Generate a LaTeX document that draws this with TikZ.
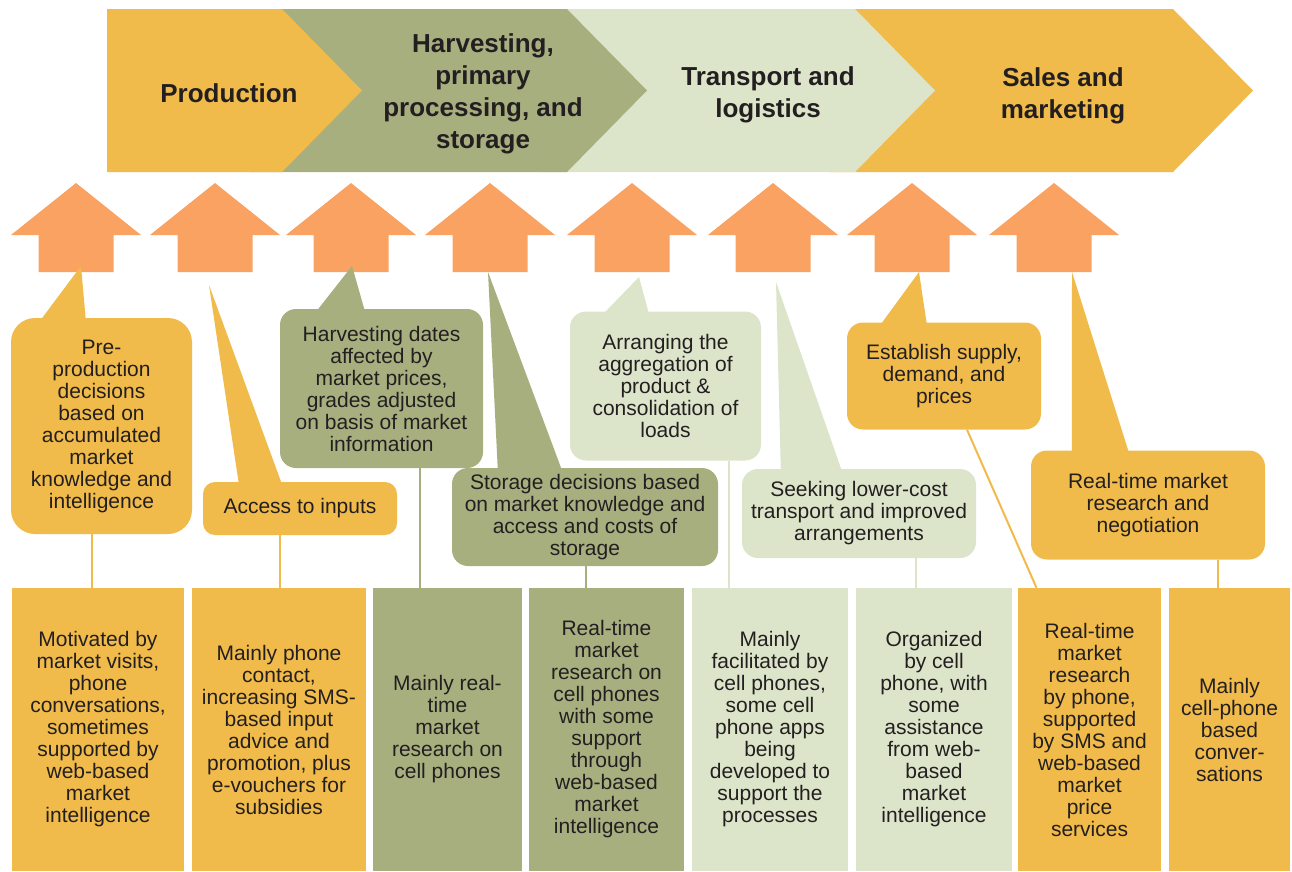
\documentclass[tikz,border=0pt]{standalone}
\usepackage{fontspec}
\setmainfont{Liberation Sans}
\usepackage{xcolor}
\usepackage{tikz}
\definecolor{prodyellow}{RGB}{240,187,74}
\definecolor{harvolive}{RGB}{167,175,127}
\definecolor{transgreen}{RGB}{220,229,201}
\definecolor{arroworange}{RGB}{249,162,97}
\definecolor{inktext}{RGB}{35,31,32}

\begin{document}
\begin{tikzpicture}[
    x=1pt, y=-1pt,
    stagetext/.style={font=\bfseries\fontsize{26}{32}\selectfont, align=center, text=inktext},
    callout/.style={rectangle, rounded corners=16pt, fill=#1, text=inktext, align=center, inner sep=0pt, font=\fontsize{21}{22}\selectfont},
    detail/.style={rectangle, fill=#1, text=inktext, align=center, inner sep=0pt, minimum height=283pt, font=\fontsize{21}{22}\selectfont},
    link/.style={draw=#1, line width=2pt},
    uparrow/.style={fill=arroworange}
]
\useasboundingbox (0,0) rectangle (1292,871);

% value chain stages
\fill[prodyellow] (830,9) -- (1173,9) -- (1253,90.5) -- (1173,172) -- (830,172) -- cycle;
\fill[transgreen] (540,9) -- (855,9) -- (935,90.5) -- (855,172) -- (540,172) -- cycle;
\fill[harvolive] (250,9) -- (567,9) -- (647,90.5) -- (567,172) -- (250,172) -- cycle;
\fill[prodyellow] (107,9) -- (282,9) -- (362,90.5) -- (282,172) -- (107,172) -- cycle;
\node[stagetext] (production) at (229,93) {Production};
\node[stagetext] (harvest) at (483,94) {Harvesting,\\primary\\processing, and\\storage};
\node[stagetext] (transport) at (768,95) {Transport and\\logistics};
\node[stagetext] (sales) at (1063,96) {Sales and\\marketing};

% up arrows
\foreach \x [count=\i] in {76,215,351,490,632,773,912,1054} {
  \fill[uparrow] (\x,183) -- ++(65,52) -- ++(-27.5,0) -- ++(0,37) -- ++(-75,0) -- ++(0,-37) -- ++(-27.5,0) -- cycle;
  \coordinate (a\i) at (\x,272);
}

% callouts
\node[callout=prodyellow, rounded corners=24pt, minimum width=181pt, minimum height=216pt] (c1) at (101.5,426)
  {Pre-\\production\\decisions\\based on\\accumulated\\market\\knowledge and\\intelligence};
\node[callout=prodyellow, rounded corners=12pt, minimum width=194pt, minimum height=53pt] (c2) at (300,508.5)
  {Access to inputs};
\node[callout=harvolive, minimum width=203pt, minimum height=159pt] (c3) at (381.5,388.5)
  {Harvesting dates\\affected by\\market prices,\\grades adjusted\\on basis of market\\information};
\node[callout=harvolive, minimum width=266pt, minimum height=98pt] (c4) at (585,517)
  {Storage decisions based\\on market knowledge and\\access and costs of\\storage};
\node[callout=transgreen, minimum width=191pt, minimum height=149pt] (c5) at (665.5,386)
  {Arranging the\\aggregation of\\product \&\\consolidation of\\loads};
\node[callout=transgreen, minimum width=234pt, minimum height=89pt] (c6) at (859,513.5)
  {Seeking lower-cost\\transport and improved\\arrangements};
\node[callout=prodyellow, minimum width=194pt, minimum height=107pt] (c7) at (944,376)
  {Establish supply,\\demand, and\\prices};
\node[callout=prodyellow, minimum width=234pt, minimum height=109pt] (c8) at (1148,505)
  {Real-time market\\research and\\negotiation};

% callout pointers
\fill[prodyellow] ([xshift=30pt,yshift=-2pt]c1.north west) -- ([xshift=5pt,yshift=6pt]a1) -- ([xshift=75pt,yshift=-2pt]c1.north west) -- cycle;
\fill[prodyellow] ([xshift=36pt,yshift=-2pt]c2.north west) -- ([xshift=-6pt,yshift=-13pt]a2) -- ([xshift=79pt,yshift=-2pt]c2.north west) -- cycle;
\fill[harvolive] ([xshift=37pt,yshift=-2pt]c3.north west) -- ([xshift=1pt,yshift=6pt]a3) -- ([xshift=85pt,yshift=-2pt]c3.north west) -- cycle;
\fill[harvolive] ([xshift=46pt,yshift=-2pt]c4.north west) -- ([xshift=-2pt]a4) -- ([xshift=110pt,yshift=-2pt]c4.north west) -- cycle;
\fill[transgreen] ([xshift=34pt,yshift=-2pt]c5.north west) -- ([xshift=7pt,yshift=-5pt]a5) -- ([xshift=79pt,yshift=-2pt]c5.north west) -- cycle;
\fill[transgreen] ([xshift=39pt,yshift=-2pt]c6.north west) -- ([xshift=3pt,yshift=-10pt]a6) -- ([xshift=100pt,yshift=-2pt]c6.north west) -- cycle;
\fill[prodyellow] ([xshift=34pt,yshift=-2pt]c7.north west) -- ([xshift=7pt]a7) -- ([xshift=80pt,yshift=-2pt]c7.north west) -- cycle;
\fill[prodyellow] ([xshift=41pt,yshift=-2pt]c8.north west) -- ([xshift=18pt]a8) -- ([xshift=98pt,yshift=-2pt]c8.north west) -- cycle;

% detail boxes
\node[detail=prodyellow, minimum width=172pt] (b1) at (98,729.5)
  {Motivated by\\market visits,\\phone\\conversations,\\sometimes\\supported by\\web-based\\market\\intelligence};
\node[detail=prodyellow, minimum width=174pt] (b2) at (279,729.5)
  {Mainly phone\\contact,\\increasing SMS-\\based input\\advice and\\promotion, plus\\e-vouchers for\\subsidies};
\node[detail=harvolive, minimum width=149pt] (b3) at (447.5,729.5)
  {Mainly real-\\time\\market\\research on\\cell phones};
\node[detail=harvolive, minimum width=155pt] (b4) at (606.5,729.5)
  {Real-time\\market\\research on\\cell phones\\with some\\support\\through\\web-based\\market\\intelligence};
\node[detail=transgreen, minimum width=156pt] (b5) at (770,729.5)
  {Mainly\\facilitated by\\cell phones,\\some cell\\phone apps\\being\\developed to\\support the\\processes};
\node[detail=transgreen, minimum width=156pt] (b6) at (934,729.5)
  {Organized\\by cell\\phone, with\\some\\assistance\\from web-\\based\\market\\intelligence};
\node[detail=prodyellow, minimum width=143pt] (b7) at (1089.5,729.5)
  {Real-time\\market\\research\\by phone,\\supported\\by SMS and\\web-based\\market\\price\\services};
\node[detail=prodyellow, minimum width=121pt] (b8) at (1229.5,729.5)
  {Mainly\\cell-phone\\based\\conver-\\sations};

% links from callouts to detail boxes
\path ([xshift=-9.5pt]c1.south) coordinate (l1);
\path ([xshift=-20pt]c2.south) coordinate (l2);
\path ([xshift=38.5pt]c3.south) coordinate (l3);
\path ([xshift=1pt]c4.south) coordinate (l4);
\path ([xshift=63.5pt]c5.south) coordinate (l5);
\path ([xshift=57pt]c6.south) coordinate (l6);
\path ([xshift=70pt]c8.south) coordinate (l8);
\draw[link=prodyellow] (l1) -- (l1 |- b1.north);
\draw[link=prodyellow] (l2) -- (l2 |- b2.north);
\draw[link=harvolive] (l3) -- (l3 |- b3.north);
\draw[link=harvolive] (l4) -- (l4 |- b4.north);
\draw[link=transgreen] (l5) -- (l5 |- b5.north);
\draw[link=transgreen] (l6) -- (l6 |- b6.north);
\draw[link=prodyellow] ([xshift=23pt]c7.south) -- ([xshift=-53pt]b7.north);
\draw[link=prodyellow] (l8) -- (l8 |- b8.north);
\end{tikzpicture}
\end{document}
